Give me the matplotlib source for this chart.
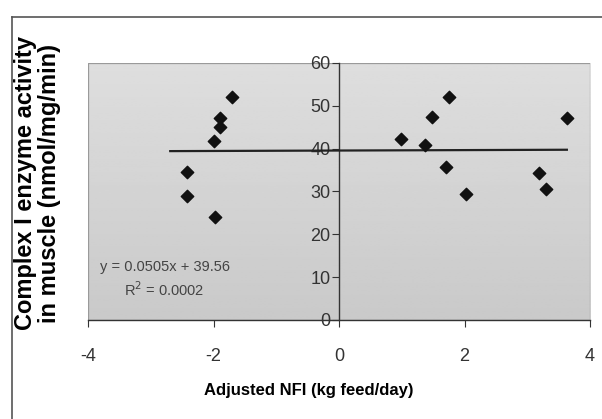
import numpy as np
import matplotlib
matplotlib.use("Agg")
import matplotlib.pyplot as plt
from matplotlib.patches import Rectangle

# values
nfi = [-1.71, -1.89, -1.90, -2.00, -2.42, -2.42, -1.98,
       1.75, 1.48, 0.98, 1.37, 1.70, 2.02, 3.19, 3.29, 3.63]
activity = [52.1, 47.1, 45.0, 41.7, 34.5, 28.9, 24.1,
            52.1, 47.3, 42.3, 40.9, 35.8, 29.3, 34.2, 30.5, 47.2]

slope = 0.0505
intercept = 39.56
fit_label = "y = 0.0505x + 39.56\nR$^2$ = 0.0002"

xticks = [-4, -2, 0, 2, 4]
yticks = [0, 10, 20, 30, 40, 50, 60]

plt.rcParams['font.family'] = ['Liberation Sans', 'DejaVu Sans']

fig = plt.figure(figsize=(6.02, 4.19), dpi=100)
ax = fig.add_axes([0.1462, 0.2363, 0.834, 0.6134])

# grey plot area, a bit lighter on top like the Excel gradient
grad = np.linspace(0.87, 0.79, 100).reshape(-1, 1)
ax.imshow(grad, extent=[0, 1, 0, 1], transform=ax.transAxes, cmap='gray',
          vmin=0, vmax=1, aspect='auto', zorder=0)
ax.add_patch(Rectangle((0, 0), 1, 1, transform=ax.transAxes, fill=False,
                       edgecolor='#9a9a9a', lw=0.9, zorder=1))

ax.set_xlim(-4, 4)
ax.set_ylim(0, 60)

# trend line over the data range
xfit = np.array([min(nfi) - 0.27, max(nfi)])
ax.plot(xfit, slope * xfit + intercept, color='#222222', lw=1.6, zorder=3)

ax.scatter(nfi, activity, marker='D', s=40, color='#111111', zorder=4)

# axes crossing at zero like Excel
for side in ['top', 'right']:
    ax.spines[side].set_visible(False)
ax.spines['left'].set_position(('data', 0))
ax.spines['left'].set_color('#333333')
ax.spines['bottom'].set_color('#333333')
ax.spines['left'].set_linewidth(1.0)
ax.spines['bottom'].set_linewidth(1.0)
ax.set_xticks(xticks)
ax.set_yticks(yticks)
ax.set_xticklabels([str(t) for t in xticks])
ax.set_yticklabels([str(t) for t in yticks])
ax.tick_params(axis='both', direction='out', length=5, color='#333333',
               labelsize=13, labelcolor='#333333')
ax.tick_params(axis='x', pad=15)
ax.tick_params(axis='y', pad=1)

ax.text(-2.78, 9.5, fit_label, fontsize=10.5, color='#444444', ha='center',
        va='center', linespacing=1.4)

fig.text(0.513, 0.068, "Adjusted NFI (kg feed/day)", fontsize=12, fontweight='bold',
         ha='center', va='center')
fig.text(0.062, 0.563, "Complex I enzyme activity\nin muscle (nmol/mg/min)",
         fontsize=17, fontweight='bold', rotation=90, ha='center', va='center',
         linespacing=1.02)

# frame lines from the scanned page
fig.add_artist(plt.Line2D([0.02, 0.02], [0, 0.96], transform=fig.transFigure,
                          color='#555555', lw=1.2))
fig.add_artist(plt.Line2D([0.02, 1.0], [0.96, 0.96], transform=fig.transFigure,
                          color='#555555', lw=1.2))

fig.savefig("out.png", dpi=100)
